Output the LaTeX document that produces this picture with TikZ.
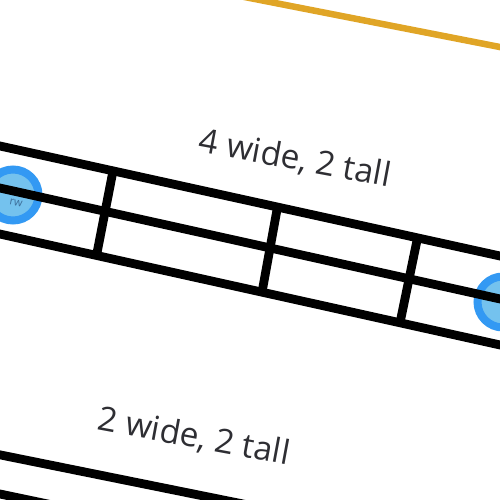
\documentclass[tikz,border=0pt]{standalone}
\usepackage{fontspec}
\setmainfont{Open Sans}
\begin{document}
\begin{tikzpicture}[x=1pt,y=-1pt]
\definecolor{ringc}{HTML}{3399F3}
\definecolor{fillc}{HTML}{74C2EE}
\definecolor{goldc}{HTML}{E0A526}
\definecolor{txtc}{HTML}{2E2E33}
\definecolor{smallc}{HTML}{3D6E99}
\tikzset{
  gridline/.style={line width=8.8pt, draw=black},
  goldline/.style={line width=6.5pt, draw=goldc},
  handle/.style={circle, minimum size=51pt, inner sep=0pt, fill=fillc, draw=ringc, line width=8pt},
  caption/.style={text=txtc, font=\fontsize{33.5}{33.5}\selectfont, rotate=-10.5, inner sep=0pt},
  tiny/.style={text=smallc, font=\fontsize{11}{11}\selectfont, inner sep=0pt, rotate=-11},
}
\useasboundingbox (0,0) rectangle (500,500);
\clip (0,0) rectangle (500,500);
% gold line
\coordinate (g1) at (240,-3.9);
\coordinate (g2) at (510,49);
\draw[goldline] (g1) -- (g2);
% handles
\node[handle] (hl) at (13,195) {};
\node[handle] (hr) at (503,302) {};
\node[tiny] (hlt) at (16,203) {rw};
% upper grid
\coordinate (ta) at (-20,141.6);
\coordinate (tb) at (520,260.4);
\coordinate (ma) at (-20,183.6);
\coordinate (mb) at (520,303.4);
\coordinate (ba) at (-20,229.6);
\coordinate (bb) at (520,349.4);
\draw[gridline] (ta) -- (tb);
\draw[gridline] (ma) -- (mb);
\draw[gridline] (ba) -- (bb);
\coordinate (v1a) at (113,171);
\coordinate (v1b) at (96.5,255.5);
\coordinate (v2a) at (277.5,207);
\coordinate (v2b) at (262,292.2);
\coordinate (v3a) at (417.5,238);
\coordinate (v3b) at (400,322.8);
\draw[gridline] (v1a) -- (v1b);
\draw[gridline] (v2a) -- (v2b);
\draw[gridline] (v3a) -- (v3b);
% lower grid
\coordinate (la) at (-20,450.8);
\coordinate (lb) at (520,560);
\coordinate (lma) at (-20,489.8);
\coordinate (lmb) at (520,603);
\draw[gridline] (la) -- (lb);
\draw[gridline] (lma) -- (lmb);
% captions
\node[caption] (c1) at (295,159) {4 wide, 2 tall};
\node[caption] (c2) at (194,437) {2 wide, 2 tall};
\end{tikzpicture}
\end{document}
